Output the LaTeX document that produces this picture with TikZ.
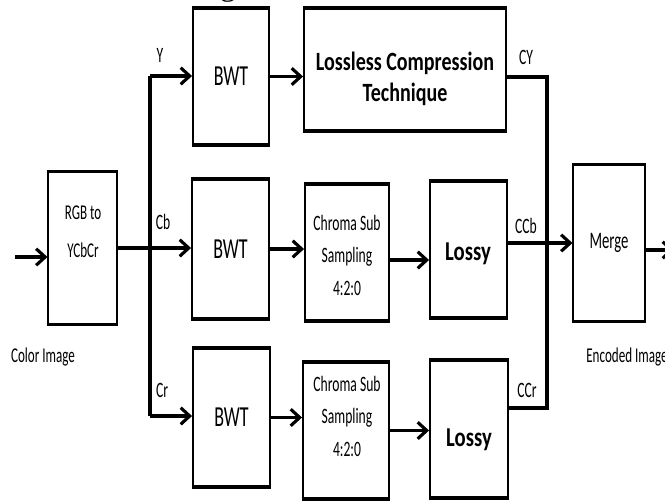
\documentclass[tikz,border=0pt]{standalone}
\usepackage{fontspec}
\setmainfont{Carlito}[FakeStretch=0.62]
\newfontfamily\bfam{Carlito}[FakeStretch=0.76]
\newfontfamily\seriff{Liberation Serif}
\usetikzlibrary{arrows.meta}
\begin{document}
\begin{tikzpicture}[x=0.02cm,y=-0.02cm,
  box/.style={draw, line width=1.1pt, inner sep=0pt},
  thinbox/.style={draw, line width=0.6pt, inner sep=0pt},
  ln/.style={line width=1.8pt},
  arr/.style={line width=1.8pt, -{Straight Barb[length=1.8mm,width=3.3mm]}},
  lab/.style={font=\fontsize{12.5}{14}\selectfont, inner sep=0pt},
  bwtf/.style={font=\fontsize{16.5}{18}\selectfont},
  chromaf/.style={font=\fontsize{12.5}{18.5}\selectfont, align=center, inner sep=0pt},
  lossyf/.style={font=\bfam\bfseries\fontsize{15.5}{18}\selectfont, inner sep=0pt},
]
\useasboundingbox (0,0) rectangle (665,501);

% caption fragment at the top
\node[font=\seriff\fontsize{18}{20}\selectfont, anchor=base, inner sep=0pt] (gcap) at (228,-4.5) {g};

% boxes
\node[thinbox, minimum width=1.38cm, minimum height=3.04cm] (rgb) at (82.5,248) {};
\node[box, bwtf, minimum width=1.52cm, minimum height=2.70cm] (bwt1) at (231,76.5) {BWT};
\node[box, minimum width=4.04cm, minimum height=2.42cm] (lossless) at (405,69.5) {};
\node[box, bwtf, minimum width=1.54cm, minimum height=2.76cm] (bwt2) at (230.5,249) {BWT};
\node[box, minimum width=1.68cm, minimum height=2.70cm] (chroma2) at (347,252.5) {};
\node[box, minimum width=1.54cm, minimum height=2.70cm] (lossy2) at (468.5,249.5) {};
\node[box, bwtf, minimum width=1.54cm, minimum height=2.74cm] (bwt3) at (231.5,417.5) {BWT};
\node[box, minimum width=1.72cm, minimum height=2.70cm] (chroma3) at (346,430.5) {};
\node[box, minimum width=1.56cm, minimum height=2.72cm] (lossy3) at (469,429) {};
\node[thinbox, font=\fontsize{13.5}{15}\selectfont, minimum width=1.44cm, minimum height=3.12cm] (merge) at (609,243) {Merge};

% thick horizontal edges
\foreach \n in {bwt1,lossless,bwt2,chroma2,lossy2,bwt3,chroma3,lossy3}
  \draw[line width=2.4pt] (\n.north west) -- (\n.north east) (\n.south west) -- (\n.south east);
\foreach \n in {rgb,merge}
  \draw[line width=1.6pt] (\n.north west) -- (\n.north east) (\n.south west) -- (\n.south east);

% box texts
\node[font=\fontsize{12}{21.5}\selectfont, align=center, inner sep=0pt] (rgbt) at (83,232) {RGB to\\YCbCr};
\node[font=\bfam\bfseries\fontsize{15}{18}\selectfont, align=center, inner sep=0pt] (losslesst) at (405,79) {Lossless Compression\\Technique};
\node[chromaf] (chroma2t) at (347,255) {Chroma Sub\\Sampling\\4:2:0};
\node[chromaf] (chroma3t) at (347,416) {Chroma Sub\\Sampling\\4:2:0};
\node[lossyf] (lossy2t) at (468,254) {Lossy};
\node[lossyf] (lossy3t) at (469,440) {Lossy};

% labels
\node[lab] (ly) at (160,55) {Y};
\node[lab] (lcb) at (163,222) {Cb};
\node[lab] (lcr) at (162,390) {Cr};
\node[lab] (lcy) at (526,57) {CY};
\node[lab] (lccb) at (526,226) {CCb};
\node[lab] (lccr) at (527,390) {CCr};
\node[font=\fontsize{12}{14}\selectfont, inner sep=0pt] (lin) at (43,357) {Color Image};
\node[font=\fontsize{12}{14}\selectfont, inner sep=0pt] (lout) at (627,357) {Encoded Image};

% helper coordinates
\coordinate (in) at (15,257);
\coordinate (ty) at (150,76);
\coordinate (tr) at (150,416);
\coordinate (c2) at (0,260);
\coordinate (cy) at (0,77);
\coordinate (ccr) at (0,408);
\coordinate (mx) at (547,0);
\coordinate (out) at (674,250);

% connectors
\draw[arr] (in) -- (in -| rgb.west);
\draw[arr] (rgb.east) -- (rgb.east -| bwt2.west);
\draw[ln] (ty) -- (tr);
\draw[arr] (ty) -- (ty -| bwt1.west);
\draw[arr] (tr) -- (tr -| bwt3.west);
\draw[arr] (bwt1.east) -- (bwt1.east -| lossless.west);
\draw[arr] (bwt2.east) -- (bwt2.east -| chroma2.west);
\draw[arr] (c2 -| chroma2.east) -- (c2 -| lossy2.west);
\draw[arr] (bwt3.east) -- (bwt3.east -| chroma3.west);
\draw[arr] (chroma3.east) -- (chroma3.east -| lossy3.west);
\draw[ln] (cy -| lossless.east) -- (cy -| mx) -- (ccr -| mx) -- (ccr -| lossy3.east);
\draw[arr] (merge.west -| lossy2.east) -- (merge.west);
\draw[arr] (out -| merge.east) -- (out);
\end{tikzpicture}
\end{document}
